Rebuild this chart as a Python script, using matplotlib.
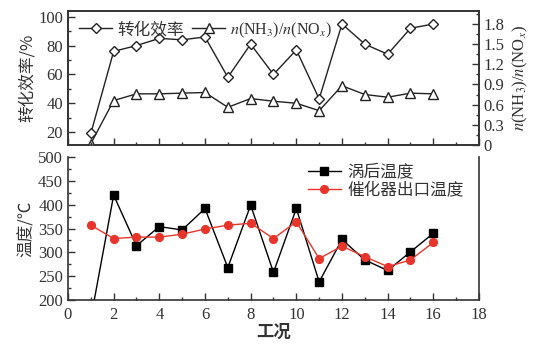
import matplotlib
matplotlib.use("Agg")
import matplotlib.pyplot as plt
from matplotlib.ticker import MultipleLocator

plt.rcParams['font.family'] = ['Liberation Serif', 'Noto Sans CJK SC']
plt.rcParams['mathtext.fontset'] = 'stix'
plt.rcParams['font.size'] = 12

# 工况编号
cases = list(range(1, 17))

# 转化效率 (%)
efficiency = [19, 76, 80, 85, 84, 86, 58, 81, 60, 77, 43, 95, 81, 74, 92, 95]
# n(NH3)/n(NOx)
ratio = [0.02, 0.66, 0.76, 0.76, 0.77, 0.78, 0.56, 0.69, 0.65, 0.62, 0.51, 0.88, 0.75, 0.71, 0.77, 0.76]

# 温度 (℃)
turbine_temp = [161, 420, 314, 354, 347, 392, 268, 399, 258, 392, 238, 327, 284, 262, 301, 340]
catalyst_temp = [357, 329, 332, 332, 338, 349, 357, 361, 329, 364, 287, 313, 291, 270, 284, 321]

fig = plt.figure(figsize=(5.34, 3.45), dpi=100)
ax1 = fig.add_axes([0.1273, 0.5797, 0.7697, 0.3884])
ax2 = ax1.twinx()
ax3 = fig.add_axes([0.1273, 0.1304, 0.7697, 0.4145])

spine_color = '#333333'
lw = 1.0

# upper panel
l1, = ax1.plot(cases, efficiency, color='#222222', lw=lw, marker='D', ms=5.5,
               mfc='white', mec='#222222', mew=1.0, clip_on=True, zorder=3)
l2, = ax2.plot(cases, ratio, color='#222222', lw=lw, marker='^', ms=6.5,
               mfc='white', mec='#222222', mew=1.0, clip_on=True, zorder=3)
ax1.set_zorder(ax2.get_zorder() + 1)
ax1.patch.set_visible(False)

ax1.set_xlim(0, 18)
ax1.set_ylim(11, 104)
ax2.set_ylim(0, 1.99)
ax1.yaxis.set_major_locator(MultipleLocator(20))
ax1.yaxis.set_minor_locator(MultipleLocator(10))
ax2.yaxis.set_major_locator(MultipleLocator(0.3))
ax2.yaxis.set_minor_locator(MultipleLocator(0.15))
ax1.xaxis.set_major_locator(MultipleLocator(2))
ax1.xaxis.set_minor_locator(MultipleLocator(1))
ax1.tick_params(axis='x', labelbottom=False)
ax2.set_yticklabels(['0' if abs(v) < 1e-9 else f'{v:.1f}' for v in ax2.get_yticks()])

for a in (ax1, ax2):
    a.tick_params(which='both', direction='in', colors=spine_color, labelcolor='#333333',
                  width=1.0)
    a.tick_params(which='major', length=5)
    a.tick_params(which='minor', length=2.5)
    for s in a.spines.values():
        s.set_color(spine_color)
        s.set_linewidth(1.2)

ax1.set_ylabel('转化效率/%', family=['Noto Sans CJK SC'], fontsize=12, color='#333333', labelpad=2)
ax2.set_ylabel(r'$n$(NH$_3$)/$n$(NO$_x$)', fontsize=12, color='#333333', labelpad=4)

leg1 = ax1.legend([l1, l2], ['转化效率', r'$n$(NH$_3$)/$n$(NO$_x$)'], ncol=2,
                  loc='upper left', bbox_to_anchor=(-0.01, 1.04), frameon=False,
                  handlelength=2.0, handletextpad=0.3, columnspacing=0.5,
                  prop={'family': ['Noto Sans CJK SC'], 'size': 12})
for t in leg1.get_texts():
    t.set_color('#333333')
leg1.get_texts()[1].set_family(['Liberation Serif'])
leg1.get_texts()[1].set_fontsize(11.5)

# lower panel
l3, = ax3.plot(cases, turbine_temp, color='black', lw=lw, marker='s', ms=5.2,
               mfc='black', mec='black', zorder=3)
l4, = ax3.plot(cases, catalyst_temp, color='#e8352b', lw=lw, marker='o', ms=5.6,
               mfc='#e8352b', mec='#e8352b', zorder=4)
ax3.set_xlim(0, 18)
ax3.set_ylim(200, 500)
ax3.xaxis.set_major_locator(MultipleLocator(2))
ax3.xaxis.set_minor_locator(MultipleLocator(1))
ax3.yaxis.set_major_locator(MultipleLocator(50))
ax3.yaxis.set_minor_locator(MultipleLocator(25))
ax3.tick_params(which='both', direction='in', colors=spine_color, labelcolor='#333333', width=1.0)
ax3.tick_params(which='major', length=5)
ax3.tick_params(which='minor', length=2.5)
ax3.tick_params(axis='x', pad=5)
ax3.spines['top'].set_visible(False)
for s in ('left', 'bottom', 'right'):
    ax3.spines[s].set_color(spine_color)
    ax3.spines[s].set_linewidth(1.2)

ax3.set_ylabel('温度/℃', family=['Noto Sans CJK SC'], fontsize=12, color='#333333', labelpad=2)
ax3.set_xlabel('工况', family=['Noto Sans CJK SC'], fontsize=12.5, fontweight='bold',
               color='#333333', labelpad=0)

leg2 = ax3.legend([l3, l4], ['涡后温度', '催化器出口温度'], loc='upper right',
                  bbox_to_anchor=(1.0, 1.06), frameon=False, handlelength=2.0,
                  handletextpad=0.4, labelspacing=0.1,
                  prop={'family': ['Noto Sans CJK SC'], 'size': 12})
for t in leg2.get_texts():
    t.set_color('#333333')

fig.savefig('out.png', dpi=100)
